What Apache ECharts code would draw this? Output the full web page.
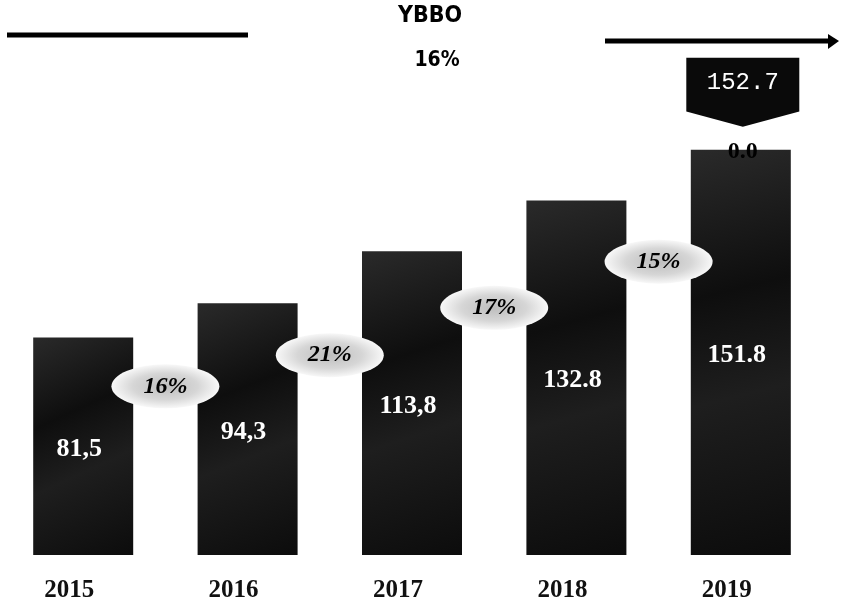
<!DOCTYPE html>
<html>
<head>
<meta charset="utf-8">
<script src="https://cdn.jsdelivr.net/npm/echarts@6/dist/echarts.min.js"></script>
<style>
  html, body { margin: 0; padding: 0; background: #ffffff; }
  #chart { width: 841px; height: 612px; }
</style>
</head>
<body>
<div id="chart"></div>
<script>
// ---- data ----
const years = ['2015', '2016', '2017', '2018', '2019'];
const values = [81.5, 94.3, 113.8, 132.8, 151.8];
const valueLabels = ['81,5', '94,3', '113,8', '132.8', '151.8'];
const growthLabels = ['16%', '21%', '17%', '15%'];
const topExtra = [null, null, null, null, 0];
const topExtraLabel = '0.0';
const forecastValue = 152.7;
const titleText = 'YBBO';
const cagrText = '16%';

// ---- chart ----
const chart = echarts.init(document.getElementById('chart'), null, { renderer: 'canvas' });

const catHalf = (841 - 1 - 18) / years.length / 2;

// growth ellipses sit between two bars, a bit below the top of the earlier bar
const growthData = growthLabels.map((g, i) => ({
  value: [i, values[i] * 0.91 - 11],
  label: g
}));

const option = {
  backgroundColor: '#ffffff',
  animation: false,
  grid: { left: 1, right: 18, top: 21, bottom: 57, containLabel: false },
  xAxis: {
    type: 'category',
    data: years,
    axisLine: { show: false },
    axisTick: { show: false },
    splitLine: { show: false },
    axisLabel: {
      color: '#111111',
      fontFamily: 'Liberation Serif, Times New Roman, serif',
      fontWeight: 'bold',
      fontSize: 25,
      margin: 23,
      padding: [0, 28, 0, 0]
    }
  },
  yAxis: {
    type: 'value',
    min: 0,
    max: 200,
    show: false,
    splitLine: { show: false }
  },
  series: [
    {
      type: 'bar',
      stack: 'total',
      data: values,
      barWidth: 100,
      itemStyle: {
        color: {
          type: 'linear', x: 0, y: 0, x2: 1, y2: 1,
          colorStops: [
            { offset: 0, color: '#2a2a2a' },
            { offset: 0.35, color: '#0e0e0e' },
            { offset: 0.6, color: '#1e1e1e' },
            { offset: 1, color: '#0c0c0c' }
          ]
        }
      },
      label: {
        show: true,
        position: 'inside',
        offset: [-4, 3],
        color: '#ffffff',
        fontFamily: 'Liberation Serif, Times New Roman, serif',
        fontWeight: 'bold',
        fontSize: 26,
        formatter: p => valueLabels[p.dataIndex]
      },
      z: 2
    },
    {
      type: 'bar',
      stack: 'total',
      data: topExtra,
      barWidth: 100,
      itemStyle: { color: '#111111' },
      label: {
        show: true,
        position: 'inside',
        offset: [2, 2],
        color: '#000000',
        fontFamily: 'Liberation Serif, Times New Roman, serif',
        fontWeight: 'bold',
        fontSize: 24,
        formatter: () => topExtraLabel
      },
      markPoint: {
        symbol: 'path://M0,0 L100,0 L100,78 L50,100 L0,78 Z',
        symbolSize: [113, 69],
        symbolKeepAspect: false,
        symbolOffset: [2, -55],
        itemStyle: { color: '#0a0a0a' },
        label: {
          show: true,
          position: 'inside',
          offset: [0, -10],
          color: '#ffffff',
          fontFamily: 'Liberation Mono, DejaVu Sans Mono, monospace',
          fontSize: 24,
          formatter: p => p.value.toFixed(1)
        },
        data: [{ coord: ['2019', forecastValue], value: forecastValue }]
      },
      z: 3
    },
    {
      type: 'scatter',
      data: growthData,
      symbol: 'circle',
      symbolSize: [108, 44],
      symbolOffset: [catHalf, 0],
      itemStyle: {
        opacity: 1,
        color: {
          type: 'radial', x: 0.5, y: 0.5, r: 0.5,
          colorStops: [
            { offset: 0, color: '#bdbdbd' },
            { offset: 0.6, color: '#d6d6d6' },
            { offset: 1, color: '#f8f8f8' }
          ]
        }
      },
      label: {
        show: true,
        position: 'inside',
        color: '#000000',
        fontFamily: 'Liberation Serif, Times New Roman, serif',
        fontWeight: 'bold',
        fontStyle: 'italic',
        fontSize: 24,
        formatter: p => p.data.label
      },
      z: 5
    }
  ],
  graphic: [
    {
      type: 'line',
      shape: { x1: 7, y1: 35, x2: 248, y2: 35 },
      style: { stroke: '#000000', lineWidth: 5 }
    },
    {
      type: 'line',
      shape: { x1: 605, y1: 41, x2: 830, y2: 41 },
      style: { stroke: '#000000', lineWidth: 5 }
    },
    {
      type: 'polygon',
      shape: { points: [[828, 34], [839, 41], [828, 49]] },
      style: { fill: '#000000' }
    },
    {
      type: 'text',
      x: 430, y: 16,
      style: {
        text: titleText,
        fill: '#000000',
        font: 'bold 23px "DejaVu Sans Condensed", "DejaVu Sans", sans-serif',
        align: 'center',
        verticalAlign: 'middle'
      }
    },
    {
      type: 'text',
      x: 437, y: 61,
      style: {
        text: cagrText,
        fill: '#000000',
        font: 'bold 21px "DejaVu Sans Condensed", "DejaVu Sans", sans-serif',
        align: 'center',
        verticalAlign: 'middle'
      }
    }
  ]
};

chart.setOption(option);
</script>
</body>
</html>
